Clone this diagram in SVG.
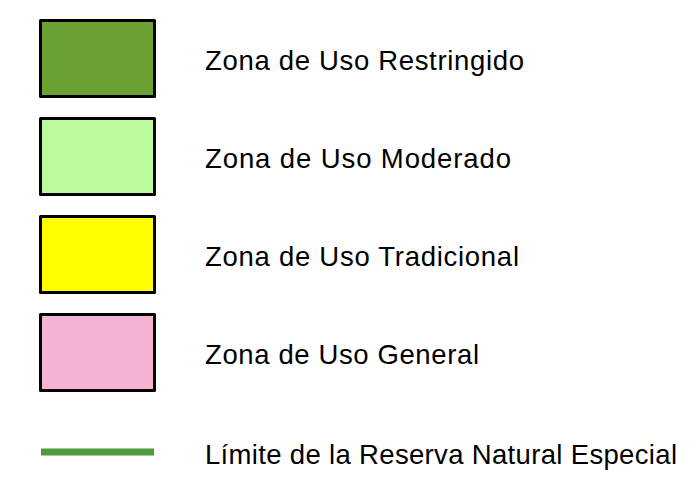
<svg xmlns="http://www.w3.org/2000/svg" width="697" height="482" viewBox="0 0 697 482">
<style>
.box{stroke:#000;stroke-width:3;stroke-linejoin:round}
.lbl{font-family:"Liberation Sans",Arial,sans-serif;font-size:27.5px;fill:#000}
</style>
<rect width="697" height="482" fill="#fff"/>
<g id="restringido"><rect class="box" x="40.5" y="20.5" width="114" height="76" fill="#6aa132"/><text class="lbl" x="205" y="69.5" textLength="319" lengthAdjust="spacing">Zona de Uso Restringido</text></g>
<g id="moderado"><rect class="box" x="40.5" y="118.5" width="114" height="76" fill="#bbfb9b"/><text class="lbl" x="205" y="167.5" textLength="306" lengthAdjust="spacing">Zona de Uso Moderado</text></g>
<g id="tradicional"><rect class="box" x="40.5" y="216.5" width="114" height="76" fill="#ffff00"/><text class="lbl" x="205" y="265.5" textLength="314" lengthAdjust="spacing">Zona de Uso Tradicional</text></g>
<g id="general"><rect class="box" x="40.5" y="314.5" width="114" height="76" fill="#f4b3d3"/><text class="lbl" x="205" y="363.5" textLength="274" lengthAdjust="spacing">Zona de Uso General</text></g>
<g id="limite"><line x1="41" y1="452" x2="154" y2="452" stroke="#4e9b3b" stroke-width="7"/><text class="lbl" x="205" y="463.5" textLength="472" lengthAdjust="spacing">Límite de la Reserva Natural Especial</text></g>
<g id="connectors"/>
</svg>
